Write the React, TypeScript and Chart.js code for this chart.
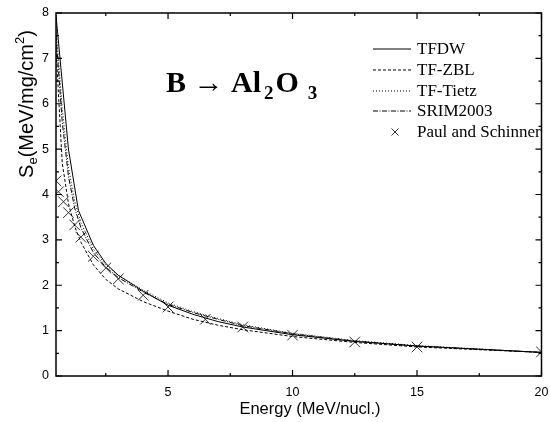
import React, { useEffect, useRef } from "react";
import { Chart, registerables } from "chart.js";

Chart.register(...registerables);

// ---- data ----
const energyTFDW = [0.5, 1, 1.4, 2, 2.5, 3, 4, 5, 6, 7, 8, 10, 12.5, 15, 20];
const seTFDW = [7.95, 5.0, 3.65, 2.88, 2.48, 2.22, 1.87, 1.56, 1.36, 1.2, 1.08, 0.91, 0.76, 0.66, 0.52];

const energyModels = [0.5, 0.75, 1, 1.25, 1.5, 2, 2.5, 3, 4, 5, 6, 7, 8, 10, 12.5, 15, 20];
const seZBL = [7.2, 4.7, 3.8, 3.3, 2.95, 2.45, 2.13, 1.92, 1.64, 1.43, 1.25, 1.12, 1.02, 0.87, 0.74, 0.64, 0.52];
const seTietz = [7.7, 5.9, 4.6, 3.85, 3.38, 2.8, 2.45, 2.22, 1.89, 1.61, 1.42, 1.27, 1.13, 0.94, 0.78, 0.67, 0.52];
const seSRIM = [7.5, 5.6, 4.4, 3.7, 3.27, 2.72, 2.4, 2.17, 1.85, 1.58, 1.4, 1.25, 1.11, 0.93, 0.77, 0.66, 0.52];

const energyPaul = [0.5, 0.6, 0.8, 1.0, 1.25, 1.5, 2, 2.5, 3, 4, 5, 6.5, 8, 10, 12.5, 15, 20];
const sePaul = [4.3, 4.06, 3.84, 3.6, 3.33, 3.06, 2.64, 2.38, 2.14, 1.78, 1.52, 1.25, 1.08, 0.9, 0.75, 0.64, 0.53];

const seriesLabels = ["TFDW", "TF-ZBL", "TF-Tietz", "SRIM2003", "Paul and Schinner"];
const seriesDashes = [[], [3, 2], [1, 2], [5, 1.5, 1, 1.5]];

const xMajorTicks = [5, 10, 15, 20];
const xMinorTicks = [2.5, 7.5, 12.5, 17.5];
const yMajorTicks = [0, 1, 2, 3, 4, 5, 6, 7, 8];
const yMinorTicks = [0.5, 1.5, 2.5, 3.5, 4.5, 5.5, 6.5, 7.5];

const xTitle = "Energy (MeV/nucl.)";

const toPoints = (xs: number[], ys: number[]) => xs.map((x, i) => ({ x, y: ys[i] }));

const decorPlugin = {
  id: "decor",
  afterDraw(chart: any) {
    const ctx = chart.ctx as CanvasRenderingContext2D;
    const a = chart.chartArea;
    const xs = chart.scales.x;
    const ys = chart.scales.y;
    ctx.save();
    ctx.strokeStyle = "#000";
    // frame
    ctx.lineWidth = 1.5;
    ctx.strokeRect(a.left, a.top, a.right - a.left, a.bottom - a.top);
    // ticks
    ctx.lineWidth = 1.2;
    const major = 6;
    const minor = 3;
    ctx.beginPath();
    const xTick = (v: number, len: number) => {
      const px = xs.getPixelForValue(v);
      ctx.moveTo(px, a.bottom);
      ctx.lineTo(px, a.bottom - len);
      ctx.moveTo(px, a.top);
      ctx.lineTo(px, a.top + len);
    };
    const yTick = (v: number, len: number) => {
      const py = ys.getPixelForValue(v);
      ctx.moveTo(a.left, py);
      ctx.lineTo(a.left + len, py);
      ctx.moveTo(a.right, py);
      ctx.lineTo(a.right - len, py);
    };
    xMajorTicks.forEach((v) => xTick(v, major));
    xMinorTicks.forEach((v) => xTick(v, minor));
    yMajorTicks.forEach((v) => yTick(v, major));
    yMinorTicks.forEach((v) => yTick(v, minor));
    ctx.stroke();

    // x title
    ctx.fillStyle = "#000";
    ctx.font = "16.5px 'Liberation Sans', Arial, sans-serif";
    ctx.textAlign = "center";
    ctx.textBaseline = "alphabetic";
    ctx.fillText(xTitle, 310, 414);

    // y title with subscript / superscript
    ctx.save();
    ctx.translate(33, 104);
    ctx.rotate(-Math.PI / 2);
    const big = "20px 'Liberation Sans', Arial, sans-serif";
    const small = "13px 'Liberation Sans', Arial, sans-serif";
    const parts: [string, string, number][] = [
      ["S", big, 0],
      ["e", small, 4],
      ["(MeV/mg/cm", big, 0],
      ["2", small, -9],
      [")", big, 0],
    ];
    let total = 0;
    parts.forEach(([t, f]) => {
      ctx.font = f;
      total += ctx.measureText(t).width;
    });
    let cx = -total / 2;
    ctx.textAlign = "left";
    parts.forEach(([t, f, dy]) => {
      ctx.font = f;
      ctx.fillText(t, cx, dy);
      cx += ctx.measureText(t).width;
    });
    ctx.restore();

    // annotation title B -> Al2O3
    const tBig = "bold 30px 'Liberation Serif', 'Times New Roman', serif";
    const tSmall = "bold 19px 'Liberation Serif', 'Times New Roman', serif";
    const tParts: [string, string, number, number][] = [
      ["B \u2192 Al", tBig, 0, 3],
      ["2", tSmall, 7, 2],
      ["O", tBig, 0, 9],
      ["3", tSmall, 7, 0],
    ];
    let tx = 166;
    ctx.textAlign = "left";
    tParts.forEach(([t, f, dy, gap]) => {
      ctx.font = f;
      ctx.fillText(t, tx, 92 + dy);
      tx += ctx.measureText(t).width + gap;
    });

    // legend
    const rows = [49, 70, 91, 111, 132];
    ctx.font = "17px 'Liberation Serif', 'Times New Roman', serif";
    ctx.textBaseline = "middle";
    rows.forEach((ry, i) => {
      if (i < 4) {
        ctx.beginPath();
        ctx.lineWidth = 1;
        ctx.setLineDash(seriesDashes[i]);
        ctx.moveTo(373, ry);
        ctx.lineTo(411, ry);
        ctx.stroke();
        ctx.setLineDash([]);
      } else {
        ctx.beginPath();
        ctx.lineWidth = 1;
        ctx.strokeStyle = "#333";
        ctx.moveTo(391.5, ry - 3.5);
        ctx.lineTo(398.5, ry + 3.5);
        ctx.moveTo(398.5, ry - 3.5);
        ctx.lineTo(391.5, ry + 3.5);
        ctx.stroke();
        ctx.strokeStyle = "#000";
      }
      ctx.fillText(seriesLabels[i], 417, ry + 1);
    });
    ctx.restore();
  },
};

export default function App() {
  const ref = useRef<HTMLCanvasElement | null>(null);
  useEffect(() => {
    if (!ref.current) return;
    const lineDs = (label: string, xs: number[], ys: number[], dash: number[]) => ({
      type: "line" as const,
      label,
      data: toPoints(xs, ys),
      borderColor: "#000",
      borderWidth: 1,
      borderDash: dash,
      pointRadius: 0,
      fill: false,
      tension: 0,
    });
    const chart = new Chart(ref.current, {
      type: "line",
      data: {
        datasets: [
          lineDs(seriesLabels[0], energyTFDW, seTFDW, seriesDashes[0]),
          lineDs(seriesLabels[1], energyModels, seZBL, seriesDashes[1]),
          lineDs(seriesLabels[2], energyModels, seTietz, seriesDashes[2]),
          lineDs(seriesLabels[3], energyModels, seSRIM, seriesDashes[3]),
          {
            type: "scatter" as any,
            label: seriesLabels[4],
            data: toPoints(energyPaul, sePaul),
            showLine: false,
            pointStyle: "crossRot",
            pointRadius: 7.5,
            borderColor: "#333",
            borderWidth: 1,
            backgroundColor: "#333",
          } as any,
        ],
      },
      options: {
        responsive: false,
        animation: false,
        devicePixelRatio: 1,
        layout: { padding: { left: 0, right: 6, top: 13, bottom: 0 } },
        plugins: { legend: { display: false }, tooltip: { enabled: false }, title: { display: false } },
        scales: {
          x: {
            type: "linear",
            min: 0.5,
            max: 20,
            grid: { display: false, drawTicks: false },
            border: { display: false },
            ticks: {
              color: "#000",
              font: { family: "'Liberation Sans', Arial, sans-serif", size: 12.5 },
              padding: 9,
              maxRotation: 0,
              autoSkip: false,
            },
            afterBuildTicks: (s: any) => {
              s.ticks = xMajorTicks.map((v) => ({ value: v }));
            },
            afterFit: (s: any) => {
              s.height = 46;
              s.paddingLeft = 0;
              s.paddingRight = 0;
            },
          },
          y: {
            type: "linear",
            min: 0,
            max: 8,
            grid: { display: false, drawTicks: false },
            border: { display: false },
            ticks: {
              color: "#000",
              font: { family: "'Liberation Sans', Arial, sans-serif", size: 12.5 },
              padding: 7,
              autoSkip: false,
            },
            afterBuildTicks: (s: any) => {
              s.ticks = yMajorTicks.map((v) => ({ value: v }));
            },
            afterFit: (s: any) => {
              s.width = 56;
              s.paddingTop = 0;
              s.paddingBottom = 0;
            },
          },
        },
      } as any,
      plugins: [decorPlugin],
    });
    return () => chart.destroy();
  }, []);
  return (
    <div style={{ position: "fixed", left: 0, top: 0, width: 550, height: 422, background: "#fff" }}>
      <canvas ref={ref} width={550} height={422} style={{ display: "block", width: 550, height: 422 }} />
    </div>
  );
}
